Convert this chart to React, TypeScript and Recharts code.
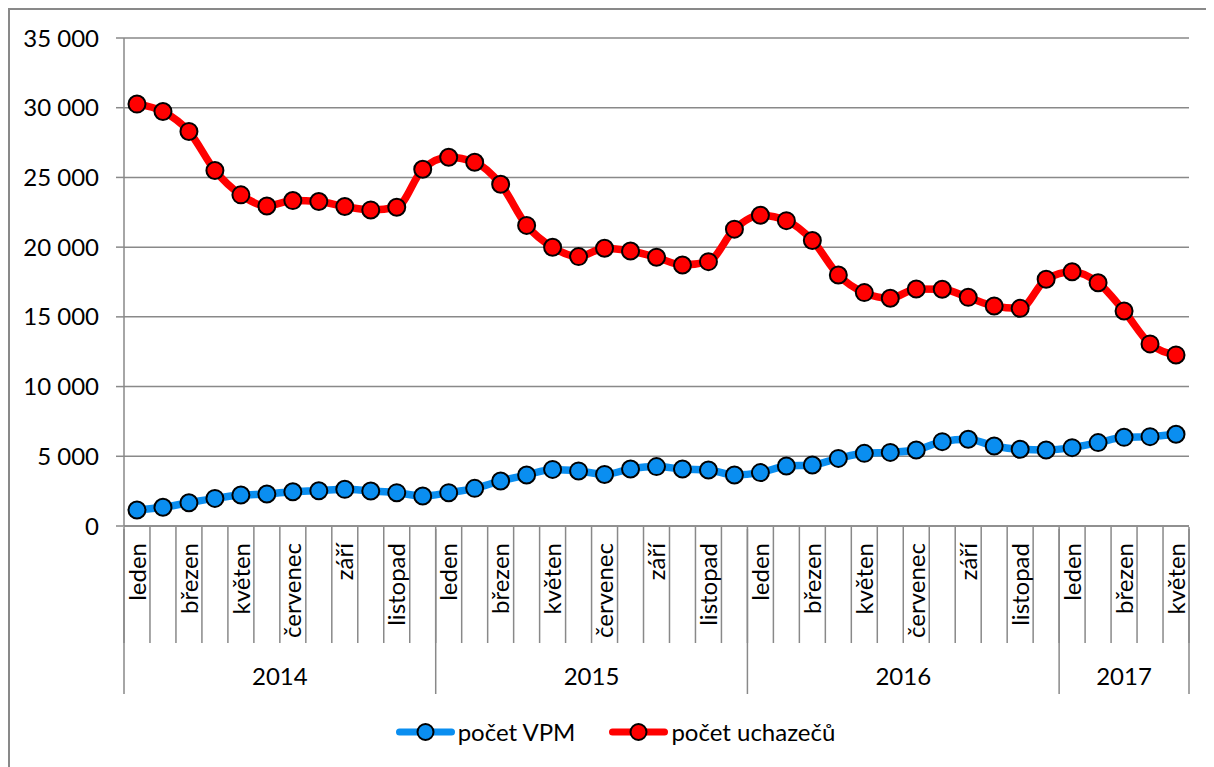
import React from 'react';
import { LineChart, Line, XAxis, YAxis, CartesianGrid, Legend } from 'recharts';

const monthNames = ['leden', 'únor', 'březen', 'duben', 'květen', 'červen', 'červenec', 'srpen', 'září', 'říjen', 'listopad', 'prosinec'];
const years = ['2014', '2015', '2016', '2017'];
const monthsPerYear = [12, 12, 12, 5];

const vpmValues = [
  1150, 1340, 1670, 1980, 2220, 2300, 2460, 2530, 2630, 2510, 2390, 2150,
  2390, 2700, 3230, 3660, 4060, 3950, 3700, 4090, 4260, 4090, 4020, 3660,
  3830, 4300, 4380, 4850, 5210, 5280, 5450, 6050, 6220, 5740, 5500, 5450,
  5620, 5980, 6360, 6410, 6580,
];
const uchazeciValues = [
  30260, 29730, 28300, 25500, 23750, 22950, 23340, 23270, 22910, 22670, 22860, 25590,
  26450, 26090, 24510, 21560, 19990, 19320, 19920, 19720, 19270, 18720, 18960, 21290,
  22290, 21900, 20480, 18000, 16740, 16330, 17000, 16980, 16400, 15780, 15610, 17700,
  18240, 17450, 15420, 13060, 12270,
];
const yTicks = [0, 5000, 10000, 15000, 20000, 25000, 30000, 35000];

const seriesNames = ['počet VPM', 'počet uchazečů'];
const seriesColors = ['#0A8EF0', '#FF0000'];

// derived categories
const categories: string[] = [];
const yearStarts: number[] = [];
years.forEach((y, yi) => {
  yearStarts.push(categories.length);
  for (let m = 0; m < monthsPerYear[yi]; m++) categories.push(monthNames[m]);
});
const N = categories.length;
const yearBounds = [...yearStarts, N];
const yearMids = years.map((_, yi) => (yearBounds[yi] + yearBounds[yi + 1]) / 2);
const monthTicks = categories.map((_, i) => i + 0.5).filter((_, i) => i % 2 === 0);
const boundTicks = Array.from({ length: N + 1 }, (_, i) => i);

const data = categories.map((c, i) => ({
  x: i + 0.5,
  label: c,
  vpm: vpmValues[i],
  uch: uchazeciValues[i],
}));

const FONT = 'Lato, "Open Sans", sans-serif';
const GRAY = '#898989';

const fmt = (v: number) => String(v).replace(/\B(?=(\d{3})+(?!\d))/g, ' ');

const MonthTick = (props: any) => {
  const { x, y, payload } = props;
  const idx = Math.floor(payload.value);
  return (
    <text
      transform={`translate(${x},${y + 17}) rotate(-90)`}
      textAnchor="end"
      dy="0.36em"
      fontSize={24}
      fontFamily={FONT}
      fill="#000"
    >
      {categories[idx]}
    </text>
  );
};

const YearTick = (props: any) => {
  const { x, y, payload } = props;
  const yi = yearMids.indexOf(payload.value);
  return (
    <text x={x} y={y + 148} textAnchor="middle" dy="0.36em" fontSize={24} fontFamily={FONT} fill="#000">
      {years[yi]}
    </text>
  );
};

const Nothing = () => <g />;

const LegendContent = (props: any) => {
  const payload = props.payload || [];
  return (
    <div style={{ display: 'flex', justifyContent: 'center', alignItems: 'center', height: 30, fontFamily: FONT, fontSize: 24, color: '#000', paddingLeft: 7 }}>
      {payload.map((p: any, i: number) => (
        <div key={p.value} style={{ display: 'flex', alignItems: 'center', marginLeft: i ? 34 : 0 }}>
          <svg width={59} height={22}>
            <line x1={3.5} x2={55.5} y1={11} y2={11} stroke={p.color} strokeWidth={7} strokeLinecap="round" />
            <circle cx={29.5} cy={11} r={8} fill={p.color} stroke="#000" strokeWidth={2} />
          </svg>
          <span style={{ marginLeft: 3, lineHeight: '30px' }}>{p.value}</span>
        </div>
      ))}
    </div>
  );
};

export default function App() {
  return (
    <div style={{ width: 1204, height: 757, borderTop: `2px solid ${GRAY}`, borderLeft: `2px solid ${GRAY}` }}>
      <LineChart width={1204} height={757} data={data} margin={{ top: 28, right: 25, left: 0, bottom: 207 }}>
        <CartesianGrid vertical={false} stroke={GRAY} strokeWidth={1.5} />
        <XAxis
          dataKey="x"
          type="number"
          domain={[0, N]}
          ticks={monthTicks}
          interval={0}
          height={1}
          tickSize={0}
          tickMargin={0}
          tickLine={false}
          axisLine={{ stroke: GRAY, strokeWidth: 1.5 }}
          tick={<MonthTick />}
        />
        <XAxis
          xAxisId="bounds"
          dataKey="x"
          type="number"
          domain={[0, N]}
          ticks={boundTicks}
          interval={0}
          height={1}
          tickSize={116}
          axisLine={false}
          tickLine={{ stroke: GRAY, strokeWidth: 1.5 }}
          tick={<Nothing />}
        />
        <XAxis
          xAxisId="years"
          dataKey="x"
          type="number"
          domain={[0, N]}
          ticks={yearBounds}
          interval={0}
          height={1}
          tickSize={165}
          axisLine={false}
          tickLine={{ stroke: GRAY, strokeWidth: 1.5 }}
          tick={<Nothing />}
        />
        <XAxis
          xAxisId="yearLabels"
          dataKey="x"
          type="number"
          domain={[0, N]}
          ticks={yearMids}
          interval={0}
          height={1}
          tickSize={0}
          tickMargin={0}
          axisLine={false}
          tickLine={false}
          tick={<YearTick />}
        />
        <YAxis
          width={114}
          domain={[0, 35000]}
          ticks={yTicks}
          interval={0}
          tickFormatter={fmt}
          tickSize={8}
          tickMargin={17}
          axisLine={{ stroke: GRAY, strokeWidth: 1.5 }}
          tickLine={{ stroke: GRAY, strokeWidth: 1.5 }}
          tick={{ fill: '#000', fontSize: 24, fontFamily: FONT }}
        />
        <Legend
          verticalAlign="bottom"
          content={<LegendContent />}
          wrapperStyle={{ position: 'absolute', top: 707, left: 0, width: 1204, height: 30 }}
        />
        <Line
          dataKey="vpm"
          name={seriesNames[0]}
          type="monotone"
          stroke={seriesColors[0]}
          strokeWidth={7.5}
          dot={{ r: 8.5, fill: seriesColors[0], stroke: '#000', strokeWidth: 2 }}
          activeDot={false}
          isAnimationActive={false}
        />
        <Line
          dataKey="uch"
          name={seriesNames[1]}
          type="monotone"
          stroke={seriesColors[1]}
          strokeWidth={7.5}
          dot={{ r: 8.5, fill: seriesColors[1], stroke: '#000', strokeWidth: 2 }}
          activeDot={false}
          isAnimationActive={false}
        />
      </LineChart>
    </div>
  );
}
